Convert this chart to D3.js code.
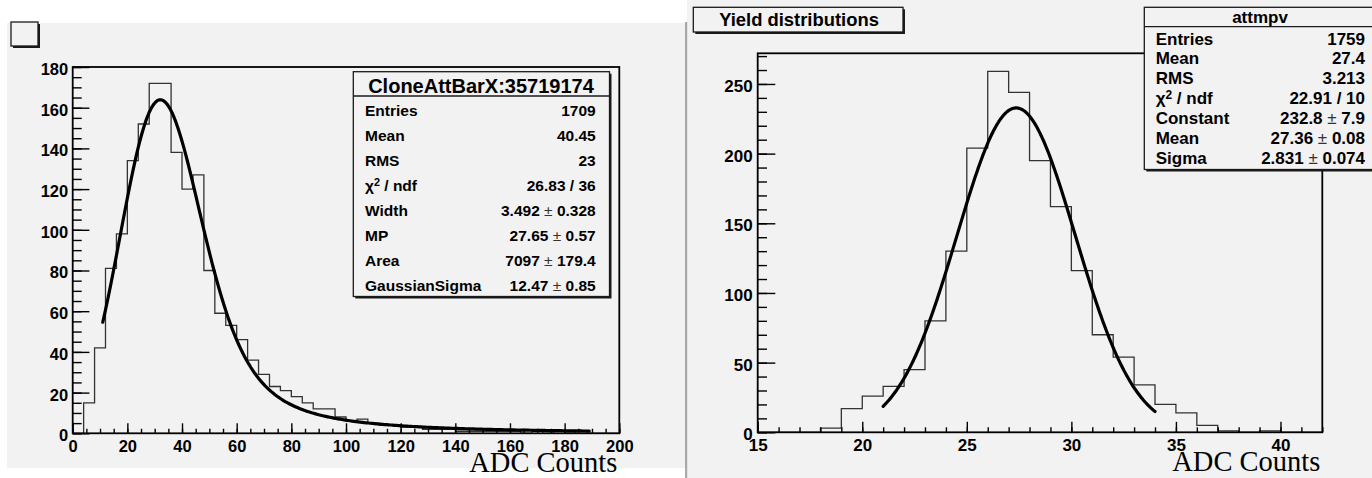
<!DOCTYPE html>
<html>
<head>
<meta charset="utf-8">
<script src="https://cdn.jsdelivr.net/npm/d3@7"></script>
<style>
  html, body { margin: 0; padding: 0; background: #ffffff; }
  svg { display: block; }
  text { fill: #000; }
</style>
</head>
<body>
<svg id="chart" width="1372" height="478"></svg>
<script>
// ---------------- left pad: ADC spectrum with Landau (x) Gauss fit ----------------
const leftRange = [0, 200];          // x axis range, 50 bins of width 4
const leftBinWidth = 4;
const leftCounts = [
  0, 15, 42, 81, 98, 134, 152, 172, 172, 138,
  120, 127, 80, 59, 53, 46, 36, 29, 23, 21,
  18, 15, 12, 12, 8, 6, 7, 5, 4, 4,
  3, 3, 2, 2, 2, 1, 1, 1, 1, 1,
  1, 0, 1, 0, 1, 0, 1, 0, 0, 0
];
const leftYMax = 180;
const leftXTicks = [0, 20, 40, 60, 80, 100, 120, 140, 160, 180, 200];
const leftYTicks = [0, 20, 40, 60, 80, 100, 120, 140, 160, 180];
const leftStatTitle = "CloneAttBarX:35719174";
const leftStatLabels = ["Entries", "Mean", "RMS", "χ2 / ndf", "Width", "MP", "Area", "GaussianSigma"];
const leftStatValues = ["1709", "40.45", "23", "26.83 / 36", "3.492 ± 0.328", "27.65 ± 0.57", "7097 ± 179.4", "12.47 ± 0.85"];
// fit parameters: Landau width, most probable value, area, gaussian sigma
const leftFitParams = [3.492, 27.65, 7097, 12.47];
const leftFitRange = [11, 189];

// ---------------- right pad: yield distribution with Gaussian fit ----------------
const rightRange = [15, 42];         // 27 bins of width 1
const rightBinWidth = 1;
const rightCounts = [
  0, 0, 0, 3, 17, 26, 33, 45, 80, 130,
  204, 259, 244, 195, 162, 116, 70, 54, 34, 20,
  14, 5, 1, 0, 1, 0, 0
];
const rightYMax = 272;
const rightXTicks = [15, 20, 25, 30, 35, 40];
const rightYTicks = [0, 50, 100, 150, 200, 250];
const rightStatTitle = "attmpv";
const rightStatLabels = ["Entries", "Mean", "RMS", "χ2 / ndf", "Constant", "Mean", "Sigma"];
const rightStatValues = ["1759", "27.4", "3.213", "22.91 / 10", "232.8 ± 7.9", "27.36 ± 0.08", "2.831 ± 0.074"];
// fit parameters: constant, mean, sigma
const rightFitParams = [232.8, 27.36, 2.831];
const rightFitRange = [21, 34];

const rightPadTitle = "Yield distributions";
const axisTitle = "ADC Counts";

const SANS = "'Liberation Sans', Arial, Helvetica, sans-serif";
const SERIF = "'Liberation Serif', 'Times New Roman', serif";

// ---------------- fit functions ----------------
// Landau density (CERNLIB DENLAN rational approximations)
function denlan(v) {
  const p1 = [0.4259894875, -0.1249762550, 0.03984243700, -0.006298287635, 0.001511162253];
  const q1 = [1.0, -0.3388260629, 0.09594393323, -0.01608042283, 0.003778942063];
  const p2 = [0.1788541609, 0.1173957403, 0.01488850518, -0.001394989411, 0.0001283617211];
  const q2 = [1.0, 0.7428795082, 0.3153932961, 0.06694219548, 0.008790609714];
  const p3 = [0.1788544503, 0.09359161662, 0.006325387654, 0.00006611667319, -0.000002031049101];
  const q3 = [1.0, 0.6097809921, 0.2560616665, 0.04746722384, 0.006957301675];
  const p4 = [0.9874054407, 118.6723273, 849.2794360, -743.7792444, 427.0262186];
  const q4 = [1.0, 106.8615961, 337.6496214, 2016.712389, 1597.063511];
  const p5 = [1.003675074, 167.5702434, 4789.711289, 21217.86767, -22324.94910];
  const q5 = [1.0, 156.9424537, 3745.310488, 9834.698876, 66924.28357];
  const p6 = [1.000827619, 664.9143136, 62972.92665, 475554.6998, -5743609.109];
  const q6 = [1.0, 651.4101098, 56974.73333, 165917.4725, -2815759.939];
  const a1 = [0.04166666667, -0.01996527778, 0.02709538966];
  const a2 = [-1.845568670, -4.284640743];
  const poly = (c, t) => c[0] + (c[1] + (c[2] + (c[3] + c[4] * t) * t) * t) * t;
  let u;
  if (v < -5.5) {
    u = Math.exp(v + 1.0);
    if (u < 1e-10) return 0;
    const ue = Math.exp(-1 / u), us = Math.sqrt(u);
    return 0.3989422803 * (ue / us) * (1 + (a1[0] + (a1[1] + a1[2] * u) * u) * u);
  } else if (v < -1) {
    u = Math.exp(-v - 1);
    return Math.exp(-u) * Math.sqrt(u) * poly(p1, v) / poly(q1, v);
  } else if (v < 1) {
    return poly(p2, v) / poly(q2, v);
  } else if (v < 5) {
    return poly(p3, v) / poly(q3, v);
  } else if (v < 12) {
    u = 1 / v; return u * u * poly(p4, u) / poly(q4, u);
  } else if (v < 50) {
    u = 1 / v; return u * u * poly(p5, u) / poly(q5, u);
  } else if (v < 300) {
    u = 1 / v; return u * u * poly(p6, u) / poly(q6, u);
  }
  u = 1 / (v - v * Math.log(v) / (v + 1));
  return u * u * (1 + (a2[0] + a2[1] * u) * u);
}

// Landau convoluted with a Gaussian
function langaus(x, p) {
  const mpshift = -0.22278298, np = 100, sc = 5, invsq2pi = 0.3989422804014;
  const mpc = p[1] - mpshift * p[0];
  const xlow = x - sc * p[3], xupp = x + sc * p[3];
  const step = (xupp - xlow) / np;
  let sum = 0;
  for (let i = 1; i <= np / 2; i++) {
    let xx = xlow + (i - 0.5) * step;
    sum += denlan((xx - mpc) / p[0]) / p[0] * Math.exp(-0.5 * ((x - xx) / p[3]) ** 2);
    xx = xupp - (i - 0.5) * step;
    sum += denlan((xx - mpc) / p[0]) / p[0] * Math.exp(-0.5 * ((x - xx) / p[3]) ** 2);
  }
  return p[2] * step * sum * invsq2pi / p[3];
}

function gaus(x, p) {
  return p[0] * Math.exp(-0.5 * ((x - p[1]) / p[2]) ** 2);
}

// ---------------- drawing ----------------
const svg = d3.select("#chart");

// canvas backgrounds
svg.append("rect").attr("x", 7).attr("y", 23).attr("width", 678).attr("height", 445).attr("fill", "#f2f2f2");
svg.append("rect").attr("x", 687).attr("y", 0).attr("width", 685).attr("height", 478).attr("fill", "#f2f2f2");
svg.append("rect").attr("x", 685).attr("y", 22).attr("width", 2.2).attr("height", 456).attr("fill", "#a9a9a9");

function shadowBox(g, x0, y0, x1, y1) {
  g.append("rect").attr("x", x0 + 2).attr("y", y0 + 2).attr("width", x1 - x0).attr("height", y1 - y0)
    .attr("fill", "#1a1a1a");
  g.append("rect").attr("x", x0).attr("y", y0).attr("width", x1 - x0).attr("height", y1 - y0)
    .attr("fill", "#f2f2f2").attr("stroke", "#1a1a1a").attr("stroke-width", 1.3);
}

function histPoints(range, binWidth, counts) {
  const pts = [[range[0], 0]];
  counts.forEach((c, i) => {
    pts.push([range[0] + i * binWidth, c]);
    pts.push([range[0] + (i + 1) * binWidth, c]);
  });
  pts.push([range[0] + counts.length * binWidth, 0]);
  return pts;
}

function drawPad(cfg) {
  const g = svg.append("g");
  const x = d3.scaleLinear().domain(cfg.xDomain).range(cfg.xPix);
  const y = d3.scaleLinear().domain(cfg.yDomain).range(cfg.yPix);
  const line = d3.line().x(d => x(d[0])).y(d => y(d[1]));

  // histogram outline
  g.append("path")
    .attr("d", line(histPoints(cfg.xDomain, cfg.binWidth, cfg.counts)))
    .attr("fill", "none").attr("stroke", "#333").attr("stroke-width", 1.3)
    .attr("stroke-linejoin", "miter");

  // fit curve
  const n = 240;
  const fitPts = d3.range(n + 1).map(i => {
    const xv = cfg.fitRange[0] + (cfg.fitRange[1] - cfg.fitRange[0]) * i / n;
    return [xv, cfg.fitFn(xv, cfg.fitParams)];
  });
  g.append("path").attr("d", line(fitPts))
    .attr("fill", "none").attr("stroke", "#000").attr("stroke-width", 3.2)
    .attr("stroke-linejoin", "round").attr("stroke-linecap", "round");

  // frame
  g.append("rect")
    .attr("x", cfg.xPix[0]).attr("y", cfg.yPix[1])
    .attr("width", cfg.xPix[1] - cfg.xPix[0]).attr("height", cfg.yPix[0] - cfg.yPix[1])
    .attr("fill", "none").attr("stroke", "#000").attr("stroke-width", 1.8);

  const styleAxis = sel => {
    sel.select(".domain").remove();
    sel.selectAll(".tick line").attr("stroke", "#000").attr("stroke-width", 1.4);
    sel.selectAll(".tick text")
      .style("font-family", SANS)
      .attr("font-weight", "bold").attr("fill", "#000");
  };

  // minor ticks
  const xMinor = d3.range(cfg.xDomain[0], cfg.xDomain[1] + 1e-9, cfg.xMinorStep);
  const yMinor = d3.range(cfg.yDomain[0], cfg.yDomain[1] + 1e-9, cfg.yMinorStep);
  g.append("g").attr("transform", `translate(0,${cfg.yPix[0]})`)
    .call(d3.axisBottom(x).tickValues(xMinor).tickSize(-cfg.xMinorLen).tickFormat(""))
    .call(styleAxis);
  g.append("g").attr("transform", `translate(${cfg.xPix[0]},0)`)
    .call(d3.axisLeft(y).tickValues(yMinor).tickSize(-cfg.yMinorLen).tickFormat(""))
    .call(styleAxis);

  // major ticks with labels
  g.append("g").attr("transform", `translate(0,${cfg.yPix[0]})`)
    .call(d3.axisBottom(x).tickValues(cfg.xTicks).tickSize(-cfg.xMajorLen).tickPadding(cfg.xPad).tickFormat(d3.format("d")))
    .call(styleAxis)
    .selectAll(".tick text").attr("font-size", cfg.labelSize);
  g.append("g").attr("transform", `translate(${cfg.xPix[0]},0)`)
    .call(d3.axisLeft(y).tickValues(cfg.yTicks).tickSize(-cfg.yMajorLen).tickPadding(cfg.yPad).tickFormat(d3.format("d")))
    .call(styleAxis)
    .selectAll(".tick text").attr("font-size", cfg.labelSize).attr("dy", "0.45em");

  // x axis title
  g.append("text").attr("x", cfg.xPix[1] - 2).attr("y", cfg.yPix[0] + 39)
    .attr("text-anchor", "end")
    .style("font-family", SERIF)
    .attr("font-size", 28.5).text(axisTitle);
  return g;
}

function statText(t, str) {
  // render "a ± b" with a lighter ± glyph and χ2 with a superscript
  if (str.startsWith("χ2")) {
    t.append("tspan").text("χ");
    t.append("tspan").attr("font-size", "0.7em").attr("dy", "-0.45em").text("2");
    t.append("tspan").attr("dy", "0.32em").text(str.slice(2));
    return;
  }
  const parts = str.split("±");
  if (parts.length === 2) {
    t.append("tspan").text(parts[0].trim());
    t.append("tspan").attr("font-weight", "normal").attr("fill", "#333").text(" ± ");
    t.append("tspan").text(parts[1].trim());
  } else {
    t.text(str);
  }
}

function drawStats(cfg) {
  const g = svg.append("g");
  shadowBox(g, cfg.x0, cfg.y0, cfg.x1, cfg.y1);
  g.append("line").attr("x1", cfg.x0).attr("x2", cfg.x1).attr("y1", cfg.headerY).attr("y2", cfg.headerY)
    .attr("stroke", "#1a1a1a").attr("stroke-width", 1.3);
  g.append("text").attr("x", cfg.titleX).attr("y", cfg.titleY).attr("text-anchor", "middle")
    .style("font-family", SANS)
    .attr("font-size", cfg.titleSize).attr("font-weight", cfg.titleWeight).text(cfg.title);
  cfg.labels.forEach((lab, i) => {
    const yy = cfg.rowY0 + i * cfg.rowStep;
    const tl = g.append("text").attr("x", cfg.textX0).attr("y", yy)
      .style("font-family", SANS)
      .attr("font-size", cfg.rowSize).attr("font-weight", "bold");
    statText(tl, lab);
    const tv = g.append("text").attr("x", cfg.textX1).attr("y", yy).attr("text-anchor", "end")
      .style("font-family", SANS)
      .attr("font-size", cfg.rowSize).attr("font-weight", "bold");
    statText(tv, cfg.values[i]);
  });
}

// left pad
drawPad({
  xDomain: leftRange, yDomain: [0, leftYMax],
  xPix: [72.7, 619.3], yPix: [433.3, 67],
  binWidth: leftBinWidth, counts: leftCounts,
  fitFn: langaus, fitParams: leftFitParams, fitRange: leftFitRange,
  xTicks: leftXTicks, yTicks: leftYTicks,
  xMinorStep: 5, yMinorStep: 5,
  xMajorLen: 10, xMinorLen: 4.5, yMajorLen: 16.7, yMinorLen: 9,
  xPad: 6.5, yPad: 4.5, labelSize: 16.5
});

// right pad
drawPad({
  xDomain: rightRange, yDomain: [0, rightYMax],
  xPix: [757.7, 1322.3], yPix: [432.3, 53.3],
  binWidth: rightBinWidth, counts: rightCounts,
  fitFn: gaus, fitParams: rightFitParams, fitRange: rightFitRange,
  xTicks: rightXTicks, yTicks: rightYTicks,
  xMinorStep: 1, yMinorStep: 10,
  xMajorLen: 10.5, xMinorLen: 5, yMajorLen: 17.6, yMinorLen: 9.3,
  xPad: 6.5, yPad: 5, labelSize: 17
});

// empty title box on the left canvas
shadowBox(svg.append("g"), 11, 22, 38, 46);

// title box on the right canvas
const tb = svg.append("g");
shadowBox(tb, 693.3, 7.3, 903, 32);
tb.append("text").attr("x", 799).attr("y", 25.7).attr("text-anchor", "middle")
  .style("font-family", SANS)
  .attr("font-size", 18.4).attr("font-weight", "bold").text(rightPadTitle);

// statistics boxes
drawStats({
  x0: 353.3, y0: 71.7, x1: 609.5, y1: 296.5, headerY: 96,
  title: leftStatTitle, titleX: 481, titleY: 92.5, titleSize: 20, titleWeight: "bold",
  labels: leftStatLabels, values: leftStatValues,
  textX0: 365, textX1: 595.7, rowY0: 116, rowStep: 25, rowSize: 15.5
});
drawStats({
  x0: 1144.3, y0: 7.3, x1: 1376, y1: 169.5, headerY: 26.7,
  title: rightStatTitle, titleX: 1260, titleY: 22.7, titleSize: 17, titleWeight: "bold",
  labels: rightStatLabels, values: rightStatValues,
  textX0: 1155.7, textX1: 1365, rowY0: 44.5, rowStep: 19.9, rowSize: 17
});
</script>
</body>
</html>
